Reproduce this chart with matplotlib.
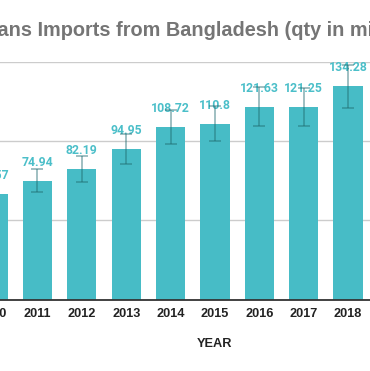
import matplotlib
matplotlib.use("Agg")
import matplotlib.pyplot as plt
import numpy as np

years = ["2010", "2011", "2012", "2013", "2014", "2015", "2016", "2017", "2018"]
values = [66.57, 74.94, 82.19, 94.95, 108.72, 110.8, 121.63, 121.25, 134.28]
errors = [6.7, 7.5, 8.2, 9.5, 10.9, 11.1, 12.2, 12.1, 13.4]
labels = ["66.57", "74.94", "82.19", "94.95", "108.72", "110.8", "121.63", "121.25", "134.28"]
title_text = "US Jeans Imports from Bangladesh (qty in million)"
hidden_prefix = "US Je"

W, H = 370, 371
fig = plt.figure(figsize=(W / 100, H / 100), dpi=100)

x_lo, x_hi = -0.6, 8.6
step = 44.36
c0 = -6.86
left_px = c0 + x_lo * step
right_px = c0 + x_hi * step
base_px = 299.5
top_px = 61.5
ax = fig.add_axes([left_px / W, (H - base_px) / H, (right_px - left_px) / W, (base_px - top_px) / H])

bar_color = "#47bcc6"
x = np.arange(len(years))
ax.bar(x, values, width=0.66, color=bar_color, zorder=2)
ax.errorbar(x, values, yerr=errors, fmt="none", ecolor="#1f6b70", alpha=0.5,
            elinewidth=1.2, capsize=4.3, capthick=1.2, zorder=4)

for xi, v, lab in zip(x, values, labels):
    ax.annotate(lab, (xi, v), xytext=(0, 13.3), textcoords="offset points",
                ha="center", va="center", color="#4bbfc9", fontsize=8.8,
                fontfamily="Roboto", fontweight="bold", zorder=3)

ax.set_xlim(x_lo, x_hi)
ax.set_ylim(0, 150)
ax.set_yticks([0, 50, 100, 150])
ax.yaxis.grid(True, color="#cccccc", linewidth=1.0, zorder=0)
ax.set_axisbelow(True)
ax.tick_params(axis="y", left=False, labelleft=False)
ax.set_xticks(x)
ax.set_xticklabels(years, fontfamily="Liberation Sans", fontweight="bold",
                   fontsize=9.2, color="#222222")
ax.tick_params(axis="x", length=0, pad=6)
for s in ["left", "right", "top"]:
    ax.spines[s].set_visible(False)
ax.spines["bottom"].set_color("#333333")
ax.spines["bottom"].set_linewidth(1.3)
ax.spines["bottom"].set_zorder(5)

fig.text(215 / W, 1 - 344 / H, "YEAR", ha="center", va="center",
         fontfamily="Liberation Sans", fontweight="bold", fontsize=9.2, color="#222222")

title_fs = 14.3
renderer = fig.canvas.get_renderer()
tmp = fig.text(0, 0, hidden_prefix + "ans", fontfamily="Liberation Sans",
               fontweight="bold", fontsize=title_fs)
tmp2 = fig.text(0, 0, "ans", fontfamily="Liberation Sans",
                fontweight="bold", fontsize=title_fs)
w_all = tmp.get_window_extent(renderer).width
w_ans = tmp2.get_window_extent(renderer).width
tmp.remove()
tmp2.remove()
prefix_w = w_all - w_ans
fig.text((-prefix_w - 3) / W, 1 - 31 / H, title_text, ha="left", va="center",
         fontfamily="Liberation Sans", fontweight="bold", fontsize=title_fs, color="#757575")

fig.savefig("out.png", dpi=100)
